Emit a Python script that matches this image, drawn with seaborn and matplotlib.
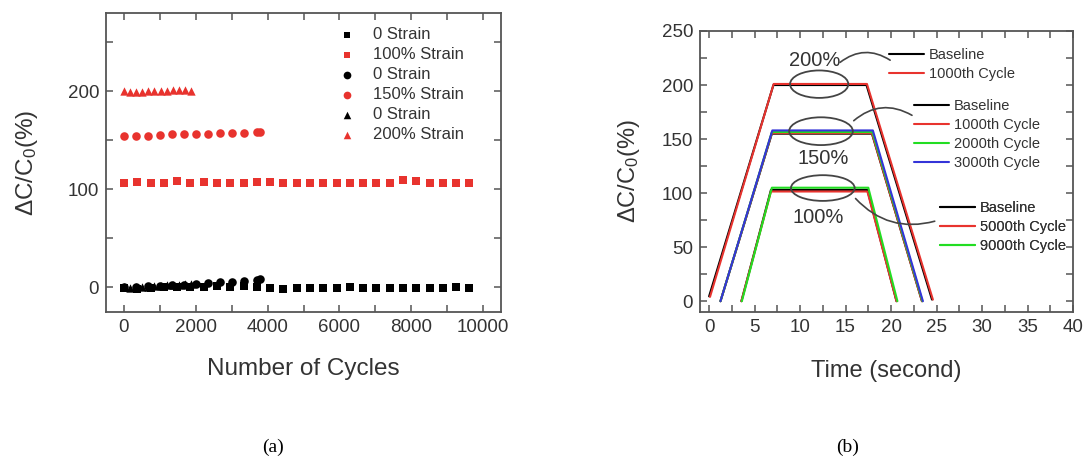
import matplotlib
matplotlib.use("Agg")
import matplotlib.pyplot as plt
from matplotlib.patches import Ellipse
from matplotlib.ticker import MultipleLocator
import seaborn as sns
import pandas as pd

# ---------------- data: panel (a) ----------------
sq_cycles = [0, 370, 740, 1110, 1480, 1850, 2220, 2590, 2960, 3330, 3700, 4070, 4440, 4810,
             5180, 5550, 5920, 6290, 6660, 7030, 7400, 7770, 8140, 8510, 8880, 9250, 9620]
sq_0strain = [-1, -1.5, -0.5, 0, 0.5, 1, 1, 1.5, 1, 1.5, 0.5, -0.5, -1.5, -1, -1, -1, -1, 0,
              -1, -0.5, -0.5, -0.5, -1, -1, -1, 0, -1]
sq_100strain = [107, 107.5, 106.5, 107, 108.5, 107, 107.5, 107, 107, 107, 108, 107.5, 107, 107,
                107, 106.5, 107, 107, 107, 107, 107, 109.5, 108.5, 107, 106.5, 107, 107]

ci_cycles = [0, 335, 670, 1005, 1340, 1675, 2010, 2345, 2680, 3015, 3350, 3700, 3800]
ci_0strain = [0, 1, 1.5, 2, 2.5, 3, 4, 4.5, 5.5, 6, 7, 8, 8.5]
ci_150strain = [154.1, 154.1, 154.4, 155.1, 156.1, 156.1, 156.5, 156.8, 157.1, 157.5, 157.8, 158.2, 158.2]

tr_cycles = [0, 170, 340, 510, 680, 850, 1020, 1190, 1360, 1530, 1700, 1870]
tr_0strain = [0, -1, 0, 0.5, 1, 1.5, 2, 2.5, 3, 3, 3.5, 4]
tr_200strain = [200.5, 199.5, 199.5, 199.5, 200, 200, 200.5, 200.5, 201, 201.5, 201.5, 200.5]

# ---------------- data: panel (b) ----------------
t200_base = [0.0, 7.07, 17.3, 24.5]
v200_base = [4.5, 200, 200, 1.5]
t200_c1000 = [0.1, 7.1, 17.35, 24.6]
v200_c1000 = [4.0, 201, 201, 1.5]

t150_base = [1.25, 6.9, 17.9, 23.4]
v150_base = [0, 155, 155, 0]
t150_c1000 = [1.25, 6.9, 17.9, 23.4]
v150_c1000 = [0, 155.5, 155.5, 0]
t150_c2000 = [1.25, 6.9, 17.95, 23.45]
v150_c2000 = [0, 156.5, 156.5, 0]
t150_c3000 = [1.25, 6.95, 18.0, 23.5]
v150_c3000 = [0, 158, 158, 0]

t100_base = [3.55, 6.8, 17.4, 20.6]
v100_base = [0, 103, 103, 0]
t100_c5000 = [3.55, 6.8, 17.4, 20.6]
v100_c5000 = [0, 101.5, 101.5, 0]
t100_c9000 = [3.6, 6.9, 17.5, 20.7]
v100_c9000 = [0, 105, 105, 0]

# ---------------- style ----------------
sns.set_theme(style="ticks")
plt.rcParams["font.family"] = ["Liberation Sans", "DejaVu Sans"]
plt.rcParams["mathtext.fontset"] = "custom"
plt.rcParams["mathtext.rm"] = "Liberation Sans"
plt.rcParams["mathtext.it"] = "Liberation Sans:italic"
plt.rcParams["mathtext.bf"] = "Liberation Sans:bold"

SP = "#555555"
TX = "#333333"
RED = "#e8332e"
GREEN = "#22dd22"
BLUE = "#3434d8"

W, H = 1085, 459
fig = plt.figure(figsize=(W / 100, H / 100), dpi=100)


def px_axes(x0, y0, x1, y1):
    return fig.add_axes([x0 / W, 1 - y1 / H, (x1 - x0) / W, (y1 - y0) / H])


def style_axes(ax):
    for s in ax.spines.values():
        s.set_color(SP)
        s.set_linewidth(1.3)
    ax.tick_params(which="both", direction="in", top=True, right=True, color=SP,
                   width=1.1, labelcolor=TX, labelsize=13.5)
    ax.tick_params(which="major", length=5, pad=5)
    ax.tick_params(which="minor", length=5)


# ---------------- panel (a) ----------------
axa = px_axes(106, 13, 501, 312)
ms = 30
sns.scatterplot(x=sq_cycles, y=sq_0strain, marker="s", color="black", s=ms, linewidth=0,
                ax=axa, label="0 Strain", legend=False)
sns.scatterplot(x=sq_cycles, y=sq_100strain, marker="s", color=RED, s=ms, linewidth=0,
                ax=axa, label="100% Strain", legend=False)
sns.scatterplot(x=ci_cycles, y=ci_0strain, marker="o", color="black", s=ms + 8, linewidth=0,
                ax=axa, label="0 Strain", legend=False)
sns.scatterplot(x=ci_cycles, y=ci_150strain, marker="o", color=RED, s=ms + 8, linewidth=0,
                ax=axa, label="150% Strain", legend=False)
sns.scatterplot(x=tr_cycles, y=tr_0strain, marker="^", color="black", s=ms + 6, linewidth=0,
                ax=axa, label="0 Strain", legend=False)
sns.scatterplot(x=tr_cycles, y=tr_200strain, marker="^", color=RED, s=ms + 6, linewidth=0,
                ax=axa, label="200% Strain", legend=False)

axa.set_xlim(-500, 10500)
axa.set_ylim(-25, 280)
axa.xaxis.set_major_locator(MultipleLocator(2000))
axa.xaxis.set_minor_locator(MultipleLocator(1000))
axa.yaxis.set_major_locator(MultipleLocator(100))
axa.yaxis.set_minor_locator(MultipleLocator(50))
style_axes(axa)
axa.set_xlabel("Number of Cycles", fontsize=17.5, color=TX, labelpad=16)
axa.set_ylabel("ΔC/C$_0$(%)", fontsize=17.5, color=TX, labelpad=20)

h, l = axa.get_legend_handles_labels()
axa.legend(h, l, loc="upper left", bbox_to_anchor=(339 / W, 1 - 27 / H),
           bbox_transform=fig.transFigure, frameon=False, fontsize=12,
           labelcolor=TX, borderpad=0, borderaxespad=0, handlelength=1.0,
           handletextpad=1.05, labelspacing=0.3, markerscale=0.9)

# ---------------- panel (b) ----------------
axb = px_axes(700, 31, 1073, 312)
lw = 1.5
series_b = [
    (t200_base, v200_base, "black", "Baseline"),
    (t200_c1000, v200_c1000, RED, "1000th Cycle"),
    (t150_base, v150_base, "black", "Baseline"),
    (t150_c1000, v150_c1000, RED, "1000th Cycle"),
    (t150_c2000, v150_c2000, GREEN, "2000th Cycle"),
    (t150_c3000, v150_c3000, BLUE, "3000th Cycle"),
    (t100_base, v100_base, "black", "Baseline"),
    (t100_c5000, v100_c5000, RED, "5000th Cycle"),
    (t100_c9000, v100_c9000, GREEN, "9000th Cycle"),
]
for t, v, c, lab in series_b:
    df = pd.DataFrame({"t": t, "v": v})
    sns.lineplot(data=df, x="t", y="v", color=c, lw=lw, sort=False, estimator=None,
                 ax=axb, label=lab, legend=False)
if axb.get_legend() is not None:
    axb.get_legend().remove()

axb.set_xlim(-1, 40)
axb.set_ylim(-10, 250)
axb.xaxis.set_major_locator(MultipleLocator(5))
axb.xaxis.set_minor_locator(MultipleLocator(2.5))
axb.yaxis.set_major_locator(MultipleLocator(50))
axb.yaxis.set_minor_locator(MultipleLocator(25))
style_axes(axb)
axb.set_xlabel("Time (second)", fontsize=17, color=TX, labelpad=17)
axb.set_ylabel("ΔC/C$_0$(%)", fontsize=17, color=TX, labelpad=14)

EC = "#444444"
for cx, cy, ew, eh in [(12.1, 200.8, 6.4, 25.4), (12.3, 157.3, 7.0, 25.7), (12.5, 104.7, 7.0, 23.8)]:
    axb.add_patch(Ellipse((cx, cy), ew, eh, fill=False, ec=EC, lw=1.3, zorder=5))
for txt, x, y in [("200%", 11.6, 222.8), ("150%", 12.5, 132), ("100%", 12.0, 77.4)]:
    axb.text(x, y, txt, ha="center", va="center", fontsize=14.5, color=TX, zorder=6)
for (x0, y0), (x1, y1), rad in [((14.4, 221), (19.9, 223), -0.35),
                                 ((15.9, 167), (22.3, 172), -0.35),
                                 ((16.1, 95), (24.8, 74), 0.3)]:
    axb.annotate("", xy=(x1, y1), xytext=(x0, y0),
                 arrowprops=dict(arrowstyle="-", color=EC, lw=1.2,
                                 connectionstyle=f"arc3,rad={rad}", shrinkA=0, shrinkB=0))

hb, lb = axb.get_legend_handles_labels()
groups = [(hb[0:2], lb[0:2], 889, 48), (hb[2:6], lb[2:6], 914, 99), (hb[6:9], lb[6:9], 940, 201)]
for hh, ll, gx, gy in groups:
    leg = axb.legend(hh, ll, loc="upper left", bbox_to_anchor=(gx / W, 1 - gy / H),
                     bbox_transform=fig.transFigure, frameon=False, fontsize=10.5,
                     labelcolor=TX, borderpad=0, borderaxespad=0, handlelength=2.4,
                     handletextpad=0.35, labelspacing=0.34)
    axb.add_artist(leg)

# ---------------- captions ----------------
fig.text(273 / W, 1 - 447 / H, "(a)", ha="center", va="center", fontsize=14,
         family="Liberation Serif", color="black")
fig.text(848 / W, 1 - 447 / H, "(b)", ha="center", va="center", fontsize=14,
         family="Liberation Serif", color="black")

fig.savefig("out.png", dpi=100)
